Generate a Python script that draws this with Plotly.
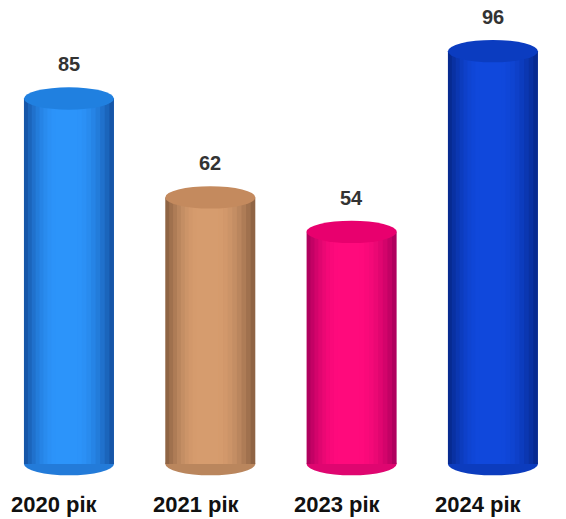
import plotly.graph_objects as go

categories = ["2020 рік", "2021 рік", "2023 рік", "2024 рік"]
values = [85, 62, 54, 96]
edge_colors = ["#1656a8", "#8f6444", "#b0005e", "#072a90"]
center_colors = ["#2c94fa", "#d69c6e", "#ff0a7c", "#1048dc"]
top_colors = ["#2080e0", "#c48a5e", "#e8006e", "#0b3cc0"]


def mix(c1, c2, t):
    a = [int(c1[i:i + 2], 16) for i in (1, 3, 5)]
    b = [int(c2[i:i + 2], 16) for i in (1, 3, 5)]
    return "#" + "".join(f"{round(a[k] + (b[k] - a[k]) * t):02x}" for k in range(3))


xs = list(range(len(categories)))
W = 0.637
ry = 2.6

fig = go.Figure()
n_layers = 9
for j in range(n_layers):
    t = j / (n_layers - 1)
    frac = 1.0 - 0.85 * (j / n_layers)
    ease = 1 - (1 - t) ** 2
    cols = [mix(edge_colors[i], center_colors[i], ease) for i in range(len(xs))]
    w = W * frac
    shift = -0.02 * t
    fig.add_trace(go.Bar(
        x=xs, y=values, width=[w] * len(xs), offset=[-w / 2 + shift] * len(xs),
        marker=dict(color=cols, line=dict(width=0)),
        hoverinfo="skip", showlegend=False,
    ))

shapes = []
for i, v in enumerate(values):
    shapes.append(dict(type="circle", xref="x", yref="y",
                       x0=i - W / 2, x1=i + W / 2, y0=-ry, y1=ry,
                       fillcolor=mix(edge_colors[i], center_colors[i], 0.6),
                       line=dict(width=0), layer="below"))
    shapes.append(dict(type="circle", xref="x", yref="y",
                       x0=i - W / 2, x1=i + W / 2, y0=v - ry, y1=v + ry,
                       fillcolor=top_colors[i], line=dict(width=0), layer="above"))

annotations = []
for i, v in enumerate(values):
    annotations.append(dict(x=i, y=v, xref="x", yref="y", text=f"<b>{v}</b>",
                            showarrow=False, yshift=34, yanchor="middle",
                            font=dict(size=20, color="#333333", family="Liberation Sans, Arial")))
    annotations.append(dict(x=i, y=0, xref="x", yref="y", text=f"<b>{categories[i]}</b>",
                            showarrow=False, yshift=-40, xshift=-14, yanchor="middle",
                            font=dict(size=22, color="#111111", family="Liberation Sans, Arial")))

fig.update_layout(
    width=566, height=519,
    margin=dict(l=0, r=0, t=0, b=30),
    barmode="overlay",
    plot_bgcolor="white", paper_bgcolor="white",
    shapes=shapes, annotations=annotations,
    xaxis=dict(range=[-0.488, 3.517], showticklabels=False, automargin=False,
               showgrid=False, zeroline=False, showline=False, ticks=""),
    yaxis=dict(range=[-5.8, 107.9], visible=False, automargin=False),
)

fig.write_html("out.html", config={"displayModeBar": False},
               post_script="document.body.style.margin='0';")
